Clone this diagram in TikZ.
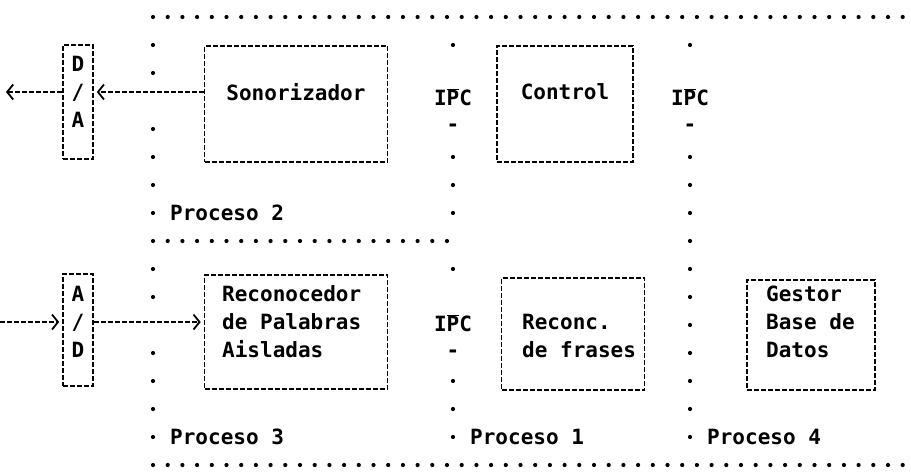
\documentclass[tikz,border=0pt]{standalone}
\usepackage{fontspec}
\setmonofont{DejaVu Sans Mono}
\usetikzlibrary{positioning, arrows.meta}

\begin{document}
\begin{tikzpicture}[x=1pt, y=-1pt,
        bloque/.style={draw=black, line width=1.6pt, dash pattern=on 5pt off 2pt, rectangle, inner sep=0pt},
        texto/.style={font=\ttfamily\bfseries\fontsize{21}{28}\selectfont, align=left, inner sep=0pt},
        ipc/.style={font=\ttfamily\bfseries\fontsize{21}{26}\selectfont, align=center, inner sep=0pt},
        puntos/.style={line width=4.2pt, line cap=round, dash pattern=on 0pt off 14.7pt},
        puntosv/.style={line width=4.2pt, line cap=round, dash pattern=on 0pt off 28pt},
        flecha/.style={-{Straight Barb[length=6pt, width=15pt, line width=1.8pt]}, line width=1.6pt, dash pattern=on 5pt off 2pt, shorten >=3pt}
    ]
    \useasboundingbox (0,0) rectangle (911,474);

    % Process separators
    \draw[puntos] (153,17) -- (911,17);
    \draw[puntos] (153,241) -- (454,241);
    \draw[puntos] (153,465) -- (911,465);
    \draw[puntosv] (153,45) -- (153,74);
    \draw[puntosv] (153,129) -- (153,214);
    \draw[puntosv] (153,269) -- (153,298);
    \draw[puntosv] (153,353) -- (153,438);
    \draw[puntosv] (453,45) -- (453,50);
    \draw[puntosv] (453,157) -- (453,214);
    \draw[puntosv] (453,269) -- (453,275);
    \draw[puntosv] (453,381) -- (453,438);
    \draw[puntosv] (690,45) -- (690,50);
    \draw[puntosv] (690,157) -- (690,438);

    % Converters
    \node[bloque, minimum width=30pt, minimum height=114pt] (da) at (78,102) {};
    \node[texto, align=center] (datxt) at (78,92) {D\\/\\A};
    \node[bloque, minimum width=30pt, minimum height=112pt] (ad) at (78,330) {};
    \node[texto, align=center] (adtxt) at (78,322) {A\\/\\D};

    % Modules
    \node[bloque, minimum width=183pt, minimum height=116pt] (son) at (296,104) {};
    \node[texto] (sontxt) at (296,92) {Sonorizador};
    \node[bloque, minimum width=136pt, minimum height=116pt] (ctl) at (565,104) {};
    \node[texto] (ctltxt) at (565,92) {Control};
    \node[bloque, minimum width=183pt, minimum height=114pt] (rec) at (296,332) {};
    \node[texto, anchor=west] (rectxt) at (222,322) {Reconocedor\\de Palabras\\Aisladas};
    \node[bloque, minimum width=143pt, minimum height=112pt] (frs) at (573,334) {};
    \node[texto, anchor=west] (frstxt) at (522,336) {Reconc.\\de frases};
    \node[bloque, minimum width=128pt, minimum height=110pt] (bd) at (811,335) {};
    \node[texto, anchor=west] (bdtxt) at (766,322) {Gestor\\Base de\\Datos};

    % IPC links
    \node[ipc] (ipca) at (453,110) {I$\overline{\mbox{P}}$C\\-};
    \node[ipc] (ipcb) at (690,110) {I$\overline{\mbox{P}}$C\\-};
    \node[ipc] (ipcc) at (453,336) {I$\overline{\mbox{P}}$C\\-};

    % Process names
    \node[texto, anchor=west] (p2) at (170,213) {Proceso 2};
    \node[texto, anchor=west] (p3) at (170,437) {Proceso 3};
    \node[texto, anchor=west] (p1) at (470,437) {Proceso 1};
    \node[texto, anchor=west] (p4) at (707,437) {Proceso 4};

    % Signal flow
    \coordinate (sal) at (3,92);
    \coordinate (ent) at (0,322);
    \draw[flecha] (son.west |- sontxt) -- (da.east |- sontxt);
    \draw[flecha] (da.west |- sontxt) -- (sal);
    \draw[flecha] (ent) -- (ad.west |- adtxt);
    \draw[flecha] (ad.east |- adtxt) -- (rec.west |- adtxt);
\end{tikzpicture}
\end{document}
